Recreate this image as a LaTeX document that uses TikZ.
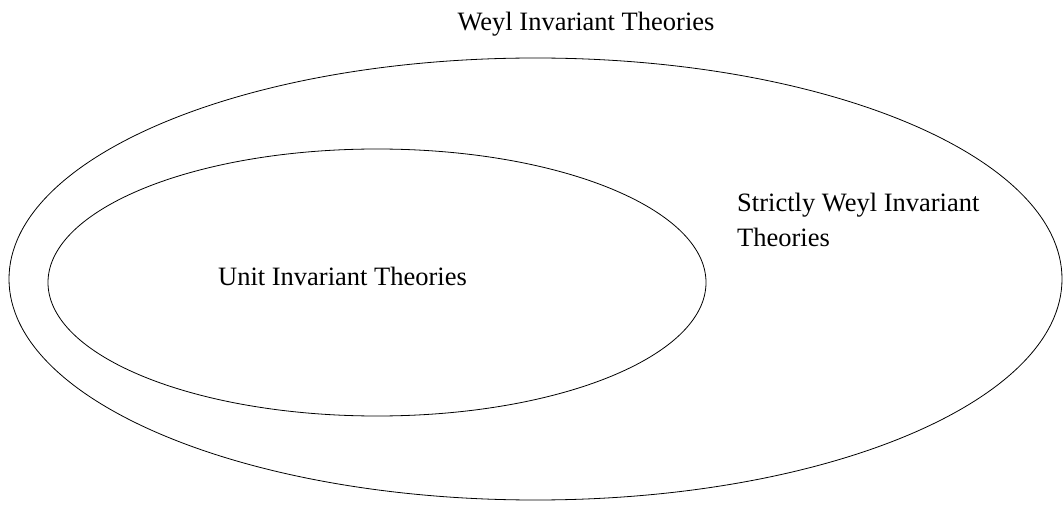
\documentclass[tikz,border=0pt]{standalone}
\usepackage{fontspec}
\setmainfont{Liberation Serif}
\begin{document}
\begin{tikzpicture}[x=1pt,y=-1pt,
  set/.style={draw=black,line width=0.8pt},
  lbl/.style={font=\fontsize{26.5}{35}\selectfont,inner sep=0pt}]
\useasboundingbox (0,0) rectangle (1063,529);
\draw[set] (535.5,279) ellipse [x radius=526.5,y radius=221];
\draw[set] (377,282.5) ellipse [x radius=329,y radius=133.5];
\node[lbl,anchor=base] (weyl) at (586,31) {Weyl Invariant Theories};
\node[lbl,anchor=base] (unit) at (342.5,286) {Unit Invariant Theories};
\node[lbl,anchor=base west,align=left] (strict) at (737,247) {Strictly Weyl Invariant\\Theories};
\end{tikzpicture}
\end{document}
